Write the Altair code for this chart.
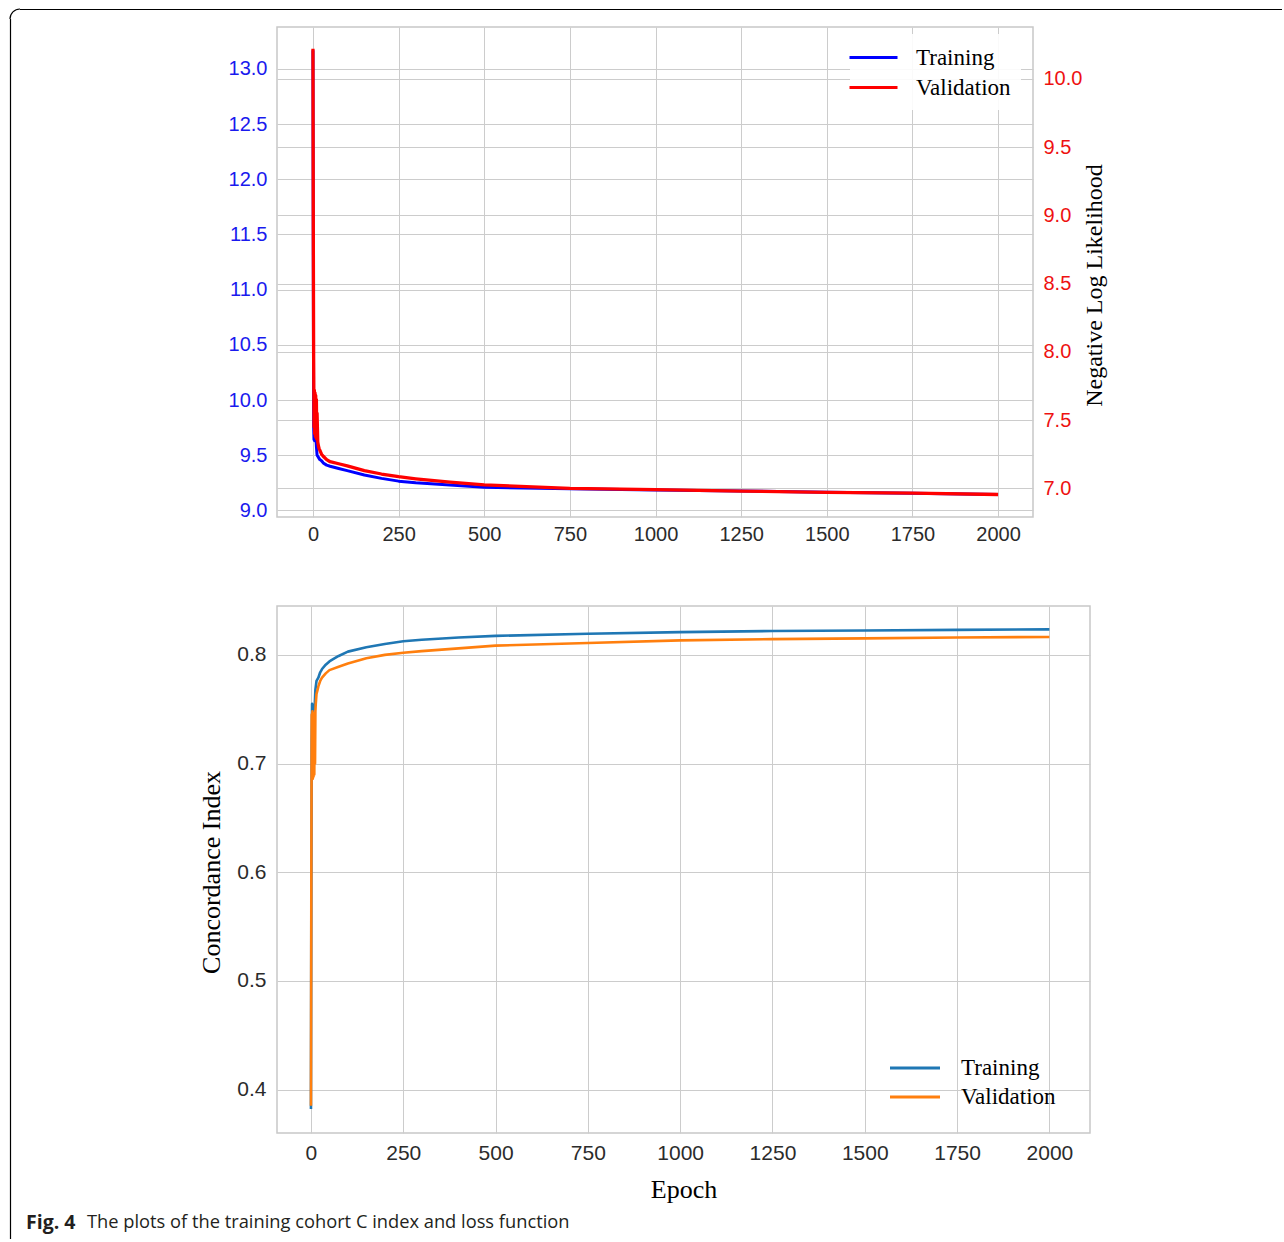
import math
import altair as alt
import pandas as pd

# ---------------- data ----------------
series_names = ["Training", "Validation"]
x_ticks = [0, 250, 500, 750, 1000, 1250, 1500, 1750, 2000]

# Top panel: Negative log likelihood (training on left axis, validation on right axis)
train_nll_epoch = [0, 1, 2, 3, 4, 5, 6, 7, 8, 10, 12, 14, 16, 20, 25, 30, 40, 50, 75,
                   100, 150, 200, 250, 300, 400, 500, 750, 1000, 1250, 1500, 1750, 2000]
train_nll = [13.17, 11.2, 9.76, 9.64, 9.75, 9.63, 9.74, 9.63, 9.70, 9.58, 9.50, 9.49, 9.48,
             9.46, 9.45, 9.43, 9.41, 9.40, 9.38, 9.36, 9.32, 9.29, 9.265, 9.25, 9.23, 9.21,
             9.195, 9.185, 9.175, 9.165, 9.155, 9.145]

val_nll_epoch = [0, 1, 2, 3, 4, 5, 6, 7, 8, 9, 10, 11, 12, 14, 16, 18, 20, 25, 30, 40, 50,
                 75, 100, 150, 200, 250, 300, 400, 500, 750, 1000, 1250, 1500, 1750, 2000]
val_nll = [10.22, 8.9, 7.95, 7.45, 7.72, 7.40, 7.70, 7.38, 7.68, 7.37, 7.65, 7.36, 7.55,
           7.34, 7.31, 7.29, 7.28, 7.25, 7.235, 7.21, 7.195, 7.18, 7.165, 7.13, 7.105,
           7.085, 7.07, 7.045, 7.025, 7.00, 6.99, 6.98, 6.97, 6.965, 6.955]

left_ticks = [9.0, 9.5, 10.0, 10.5, 11.0, 11.5, 12.0, 12.5, 13.0]
right_ticks = [7.0, 7.5, 8.0, 8.5, 9.0, 9.5, 10.0]

# Bottom panel: concordance index
train_ci_epoch = [0, 1, 2, 3, 4, 5, 6, 7, 8, 10, 12, 15, 20, 25, 30, 40, 50, 60, 75, 100,
                  150, 200, 250, 300, 400, 500, 750, 1000, 1250, 1500, 1750, 2000]
train_ci = [0.382, 0.58, 0.72, 0.755, 0.748, 0.754, 0.747, 0.752, 0.750, 0.752, 0.768,
            0.776, 0.779, 0.784, 0.787, 0.791, 0.794, 0.796, 0.799, 0.803, 0.807, 0.810,
            0.8125, 0.814, 0.816, 0.8175, 0.8195, 0.821, 0.822, 0.8225, 0.823, 0.8235]

val_ci_epoch = [0, 1, 2, 3, 4, 5, 6, 7, 8, 9, 10, 11, 12, 13, 15, 18, 20, 25, 30, 40, 50,
                75, 100, 150, 200, 250, 300, 400, 500, 750, 1000, 1250, 1500, 1750, 2000]
val_ci = [0.385, 0.60, 0.745, 0.690, 0.748, 0.686, 0.745, 0.688, 0.746, 0.690, 0.745,
          0.700, 0.748, 0.755, 0.764, 0.768, 0.771, 0.776, 0.779, 0.783, 0.786, 0.789,
          0.792, 0.797, 0.800, 0.802, 0.8035, 0.806, 0.8085, 0.811, 0.8134, 0.8145,
          0.8152, 0.816, 0.8165]

ci_ticks = [0.4, 0.5, 0.6, 0.7, 0.8]

caption_bold = "Fig. 4"
caption_text = "The plots of the training cohort C index and loss function"

# ---------------- frames ----------------
nll_train_df = pd.DataFrame({"epoch": train_nll_epoch, "nll": train_nll, "series": "Training"})
nll_val_df = pd.DataFrame({"epoch": val_nll_epoch, "nll": val_nll, "series": "Validation"})
ci_df = pd.concat([
    pd.DataFrame({"epoch": train_ci_epoch, "ci": train_ci, "series": "Training"}),
    pd.DataFrame({"epoch": val_ci_epoch, "ci": val_ci, "series": "Validation"}),
])
one = pd.DataFrame({"k": [0]})

GRID = "#cccccc"
TICK_TXT = "#2b2b2b"
SANS = "Liberation Sans"
SERIF = "Liberation Serif"
LONG_LINE = "M-2,0H2"  # legend line symbol, twice as long as its nominal size

# ---------------- top panel ----------------
x_top = alt.X(
    "epoch:Q",
    scale=alt.Scale(domain=[-105, 2102], nice=False, zero=False),
    axis=alt.Axis(values=x_ticks, format="d", title=None, grid=True, gridColor=GRID,
                  ticks=False, domain=False, labelFont=SANS, labelFontSize=20,
                  labelPadding=7, labelColor=TICK_TXT, labelFlush=False),
)

color_top = alt.Color(
    "series:N",
    scale=alt.Scale(domain=series_names, range=["#0000ff", "#ff0000"]),
    legend=alt.Legend(title=None, orient="none", legendX=573, legendY=7,
                      symbolType=LONG_LINE, symbolSize=576, symbolStrokeWidth=3,
                      labelFont=SERIF, labelFontSize=23, labelColor="black",
                      labelOffset=29, rowPadding=4, padding=10,
                      fillColor="rgba(255,255,255,0.9)"),
)

blue = alt.Chart(nll_train_df).mark_line(strokeWidth=3, strokeJoin="round").encode(
    x=x_top,
    y=alt.Y("nll:Q",
            scale=alt.Scale(domain=[8.94, 13.38], nice=False, zero=False),
            axis=alt.Axis(orient="left", values=left_ticks, format=".1f", title=None,
                          grid=True, gridColor=GRID, ticks=False, domain=False,
                          labelFont=SANS, labelFontSize=20, labelPadding=10,
                          labelColor="#1a1aee")),
    color=color_top,
)

red = alt.Chart(nll_val_df).mark_line(strokeWidth=3.3, strokeJoin="round").encode(
    x=x_top,
    y=alt.Y("nll:Q",
            scale=alt.Scale(domain=[6.79, 10.38], nice=False, zero=False),
            axis=alt.Axis(orient="right", values=right_ticks, format=".1f",
                          title="Negative Log Likelihood", titleFont=SERIF,
                          titleFontSize=24, titleFontWeight="normal", titleColor="black",
                          titleAngle=270, titleX=61, titleY=258, titleBaseline="middle",
                          grid=True, gridColor=GRID, ticks=False, domain=False,
                          labelFont=SANS, labelFontSize=20, labelPadding=10,
                          labelColor="#ee1111")),
    color=color_top,
)

# decorative outer frame (top edge, left edge, rounded corner)
frame_top = alt.Chart(one).mark_rule(color="black", strokeWidth=1.2).encode(
    x=alt.value(-257), x2=alt.value(1005), y=alt.value(-17.5))
frame_left = alt.Chart(one).mark_rule(color="black", strokeWidth=1.2).encode(
    x=alt.value(-266.5), y=alt.value(-8), y2=alt.value(1212))
corner = alt.Chart(one).mark_arc(color="black", radius=10.6, radius2=9.4,
                                  theta=3 * math.pi / 2, theta2=2 * math.pi).encode(
    x=alt.value(-257), y=alt.value(-8))

top = alt.layer(blue, red, frame_top, frame_left, corner).resolve_scale(
    y="independent").properties(width=756, height=490)

# ---------------- bottom panel ----------------
x_bot = alt.X(
    "epoch:Q",
    scale=alt.Scale(domain=[-92, 2110], nice=False, zero=False),
    axis=alt.Axis(values=x_ticks, format="d", title="Epoch", titleFont=SERIF,
                  titleFontSize=26, titleFontWeight="normal", titleColor="black",
                  titleY=56, titleBaseline="middle", grid=True, gridColor=GRID,
                  ticks=False, domain=False, labelFont=SANS, labelFontSize=21,
                  labelPadding=9, labelColor=TICK_TXT, labelFlush=False),
)
y_bot = alt.Y(
    "ci:Q",
    scale=alt.Scale(domain=[0.36, 0.845], nice=False, zero=False),
    axis=alt.Axis(values=ci_ticks, format=".1f", title="Concordance Index",
                  titleFont=SERIF, titleFontSize=26, titleFontWeight="normal",
                  titleColor="black", titleAngle=270, titleX=-66, titleY=266,
                  titleBaseline="middle", grid=True, gridColor=GRID, ticks=False,
                  domain=False, labelFont=SANS, labelFontSize=21, labelPadding=11,
                  labelColor=TICK_TXT),
)
color_bot = alt.Color(
    "series:N",
    scale=alt.Scale(domain=series_names, range=["#1f77b4", "#ff7f0e"]),
    legend=alt.Legend(title=None, orient="none", legendX=614, legendY=438,
                      symbolType=LONG_LINE, symbolSize=625, symbolStrokeWidth=3,
                      labelFont=SERIF, labelFontSize=23, labelColor="black",
                      labelOffset=32, rowPadding=3, padding=10),
)

ci_lines = alt.Chart(ci_df).mark_line(strokeWidth=2.6, strokeJoin="round").encode(
    x=x_bot, y=y_bot, color=color_bot,
    detail="series:N",
)

cap1 = alt.Chart(one).mark_text(text=caption_bold, font="Open Sans", fontSize=19.5,
                                fontWeight="bold", align="left", baseline="middle",
                                color="#231f20").encode(
    x=alt.value(-251), y=alt.value(617))
cap2 = alt.Chart(one).mark_text(text=caption_text, font="Open Sans", fontSize=18.3,
                                fontWeight="normal", align="left", baseline="middle",
                                color="#231f20").encode(
    x=alt.value(-190), y=alt.value(617))

bottom = alt.layer(ci_lines, cap1, cap2).properties(width=813, height=527)

chart = alt.VConcatChart(vconcat=[top, bottom], spacing=89, bounds="flush").resolve_scale(
    color="independent", x="independent").resolve_legend(color="independent").properties(
    padding={"left": 8, "top": 7, "right": 0, "bottom": 0},
    background="white",
).configure_view(stroke="#c8c8c8", strokeWidth=1.5)

chart.save("out.html", embed_options={"renderer": "svg", "actions": False})
